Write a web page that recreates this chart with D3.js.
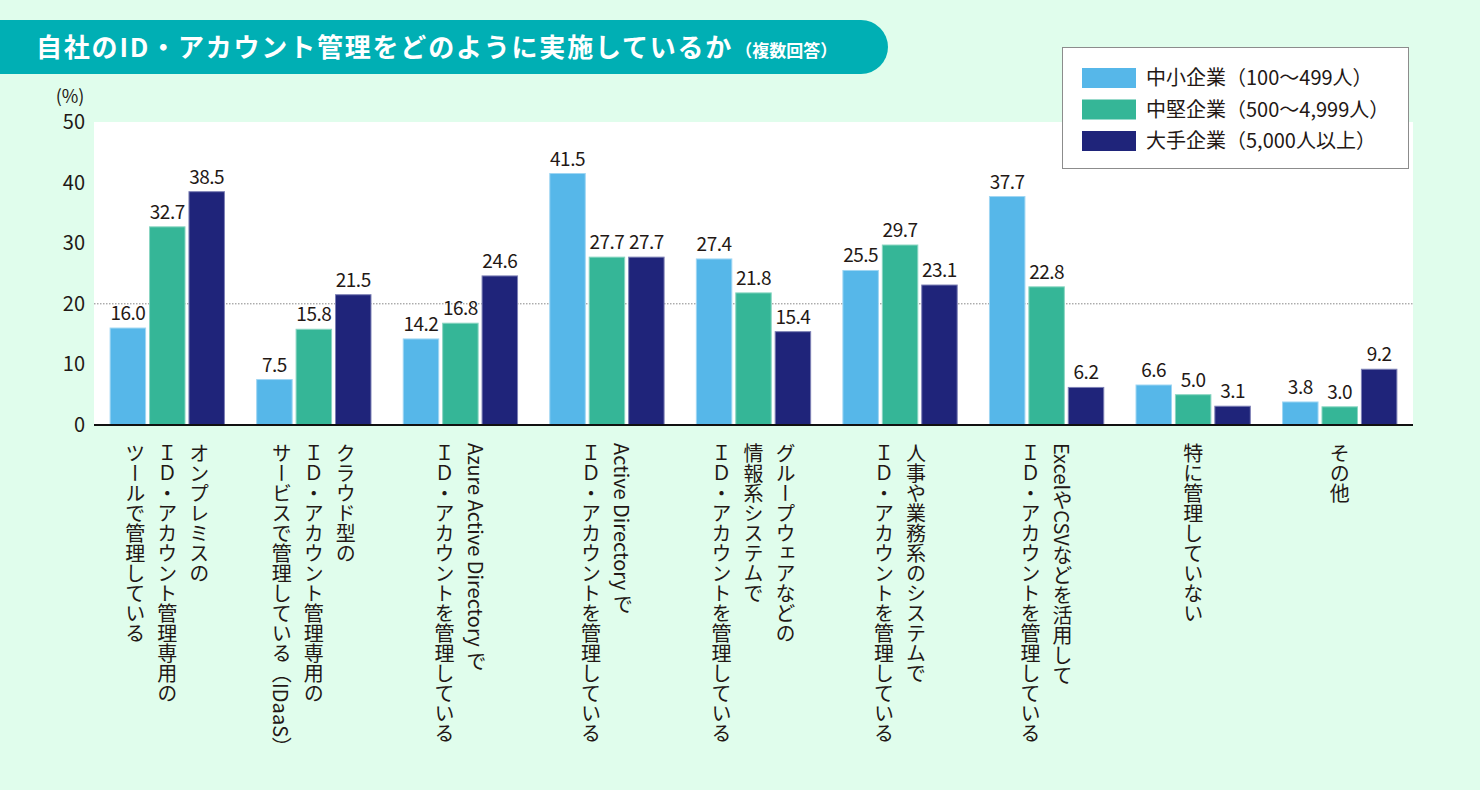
<!DOCTYPE html>
<html><head><meta charset="utf-8">
<script src="https://cdn.jsdelivr.net/npm/d3@7"></script>
<style>
html,body{margin:0;padding:0;background:#e0fdec;}
svg{display:block;font-family:"Noto Sans CJK JP","Noto Sans",sans-serif;}
</style></head>
<body><svg id="c" width="1480" height="790"></svg>
<script>
const categories = [
  ["オンプレミスの","ＩＤ・アカウント管理専用の","ツールで管理している"],
  ["クラウド型の","ＩＤ・アカウント管理専用の","サービスで管理している（IDaaS）"],
  ["Azure Active Directory で","ＩＤ・アカウントを管理している"],
  ["Active Directory で","ＩＤ・アカウントを管理している"],
  ["グループウェアなどの","情報系システムで","ＩＤ・アカウントを管理している"],
  ["人事や業務系のシステムで","ＩＤ・アカウントを管理している"],
  ["ExcelやCSVなどを活用して","ＩＤ・アカウントを管理している"],
  ["特に管理していない"],
  ["その他"]
];
const seriesNames = ["中小企業（100～499人）","中堅企業（500～4,999人）","大手企業（5,000人以上）"];
const small = [16.0, 7.5, 14.2, 41.5, 27.4, 25.5, 37.7, 6.6, 3.8];
const mid   = [32.7, 15.8, 16.8, 27.7, 21.8, 29.7, 22.8, 5.0, 3.0];
const large = [38.5, 21.5, 24.6, 27.7, 15.4, 23.1, 6.2, 3.1, 9.2];
const yTicks = [0, 10, 20, 30, 40, 50];
const colors = ["#56b7e9", "#35b697", "#1f247a"];
const strokes = ["#9fd6f3", "#8ad6c2", "#7d80b5"];

const svg = d3.select("#c");
const L = 94, R = 1413, T = 122, B = 425;

// title banner
const bh = 54, by = 20, bw = 888, r = bh/2;
svg.append("path")
  .attr("d", `M0,${by} H${bw-r} A${r},${r} 0 0 1 ${bw-r},${by+bh} H0 Z`)
  .attr("fill", "#00afb4");
const tt = svg.append("text").attr("x", 36).attr("y", 57)
  .attr("fill", "#fff").attr("font-weight", "bold").attr("font-size", 26);
tt.append("tspan").attr("letter-spacing", 1.8).text("自社のID・アカウント管理をどのように実施しているか");
tt.append("tspan").attr("font-size", 17).attr("dx", 2).text("（複数回答）");

// plot background
svg.append("rect").attr("x", L).attr("y", T).attr("width", R-L).attr("height", B-T).attr("fill", "#fff");

const y = d3.scaleLinear().domain([0, 50]).range([B, T]);
const x0 = d3.scaleBand().domain(d3.range(categories.length)).range([L, R]).paddingInner(0.22).paddingOuter(0.11);
const x1 = d3.scaleBand().domain([0,1,2]).range([0, x0.bandwidth()]).paddingInner(0.1);

// gridline at 20
svg.append("line").attr("x1", L).attr("x2", R).attr("y1", y(20)).attr("y2", y(20))
  .attr("stroke", "#888").attr("stroke-width", 1).attr("stroke-dasharray", "1.5,1.5");

// y axis labels
const yAxis = d3.axisLeft(y).tickValues(yTicks).tickSize(0).tickPadding(9).tickFormat(d3.format("d"));
const ya = svg.append("g").attr("transform", `translate(${L},0)`).call(yAxis);
ya.select(".domain").remove();
ya.selectAll("text").attr("font-size", 20).attr("fill", "#231815").attr("font-family", "'Noto Sans CJK JP',sans-serif");
svg.append("text").attr("x", 70).attr("y", 103).attr("text-anchor", "middle").attr("font-size", 18).attr("fill", "#231815").text("(%)");

// bars
const series = [small, mid, large];
const g = svg.append("g");
series.forEach((vals, si) => {
  g.selectAll(null).data(vals).join("rect")
    .attr("x", (d, i) => x0(i) + x1(si))
    .attr("y", d => y(d))
    .attr("width", x1.bandwidth())
    .attr("height", d => y(0) - y(d))
    .attr("fill", colors[si])
    .attr("stroke", strokes[si]).attr("stroke-width", 1);
  g.selectAll(null).data(vals).join("text")
    .attr("x", (d, i) => x0(i) + x1(si) + x1.bandwidth()/2)
    .attr("y", d => y(d) - 8)
    .attr("text-anchor", "middle").attr("font-size", 19).attr("fill", "#231815")
    .attr("letter-spacing", -0.5)
    .text(d => d.toFixed(1));
});

// baseline
svg.append("line").attr("x1", L).attr("x2", R).attr("y1", B).attr("y2", B).attr("stroke", "#111").attr("stroke-width", 2);

// x labels vertical
const lineGap = 32;
categories.forEach((lines, i) => {
  const cx = x0(i) + x0.bandwidth()/2;
  const n = lines.length;
  lines.forEach((ln, j) => {
    const xx = cx + ((n-1)/2 - j) * lineGap;
    svg.append("text").attr("x", xx).attr("y", 443)
      .style("writing-mode", "vertical-rl")
      .attr("font-size", 20).attr("fill", "#231815")
      .text(ln);
  });
});

// legend
const lg = svg.append("g");
lg.append("rect").attr("x", 1062.5).attr("y", 47.5).attr("width", 346).attr("height", 121)
  .attr("fill", "#fff").attr("stroke", "#8c8c8c").attr("stroke-width", 1);
seriesNames.forEach((nm, i) => {
  const yy = 78 + i * 31.5;
  lg.append("rect").attr("x", 1082).attr("y", yy - 10).attr("width", 54).attr("height", 20).attr("fill", colors[i]);
  lg.append("text").attr("x", 1146).attr("y", yy + 7).attr("font-size", 20).attr("fill", "#231815").text(nm);
});
</script></body></html>
